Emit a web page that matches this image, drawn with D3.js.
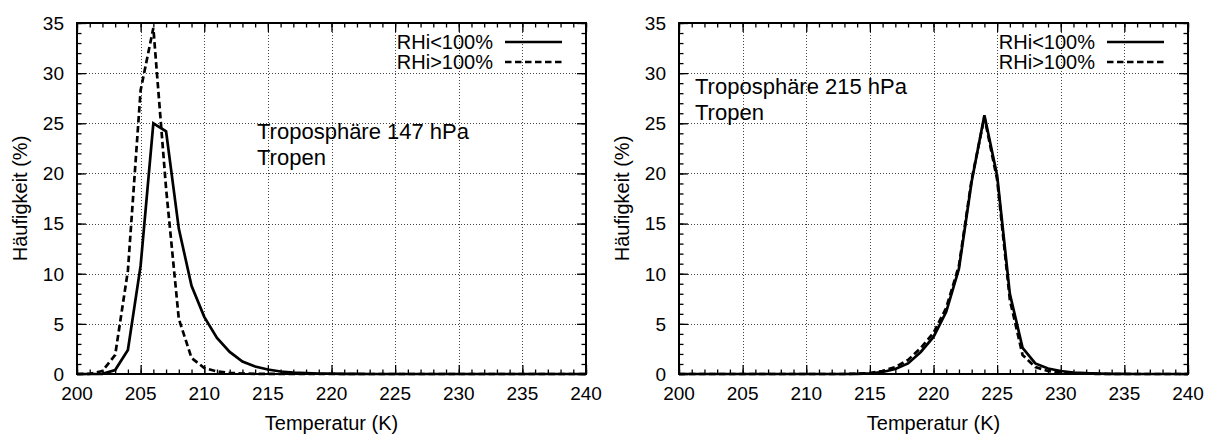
<!DOCTYPE html>
<html>
<head>
<meta charset="utf-8">
<script src="https://cdn.jsdelivr.net/npm/d3@7"></script>
<style>
  html, body { margin: 0; padding: 0; background: #fff; }
  svg { display: block; font-family: "Liberation Sans", Arial, Helvetica, sans-serif; }
</style>
</head>
<body>
<svg id="chart" width="1206" height="435"></svg>
<script>
// Temperature bins (K)
const temps = [200,201,202,203,204,205,206,207,208,209,210,211,212,213,214,215,216,217,218,219,220,
               221,222,223,224,225,226,227,228,229,230,231,232,233,234,235,236,237,238,239,240];

// 147 hPa, frequency (%) per bin
const low147  = [0,0,0.02,0.4,2.4,10.8,25.0,24.2,14.5,8.8,5.7,3.6,2.2,1.25,0.75,0.45,0.25,0.15,0.09,0.05,0.03,
                 0.02,0.01,0,0,0,0,0,0,0,0,0,0,0,0,0,0,0,0,0,0];
const high147 = [0,0.02,0.3,1.9,10.3,28.3,34.5,18.5,5.5,1.6,0.6,0.25,0.1,0.05,0.02,0.01,0,0,0,0,0,
                 0,0,0,0,0,0,0,0,0,0,0,0,0,0,0,0,0,0,0,0];

// 215 hPa, frequency (%) per bin
const low215  = [0,0,0,0,0,0,0,0,0,0,0,0,0,0,0.02,0.06,0.2,0.5,1.05,2.2,3.7,
                 6.2,10.5,19.2,25.8,19.8,8.0,2.6,1.05,0.55,0.3,0.15,0.08,0.04,0.02,0.01,0,0,0,0,0];
const high215 = [0,0,0,0,0,0,0,0,0,0,0,0,0,0,0.03,0.1,0.3,0.7,1.4,2.6,4.1,
                 6.6,10.8,19.4,25.6,19.4,7.4,1.9,0.7,0.3,0.15,0.07,0.03,0.01,0,0,0,0,0,0,0];

const xTicks = [200,205,210,215,220,225,230,235,240];
const yTicks = [0,5,10,15,20,25,30,35];
const seriesNames = ["RHi<100%", "RHi>100%"];
const panelTitles = [["Troposphäre 147 hPa", "Tropen"], ["Troposphäre 215 hPa", "Tropen"]];

const svg = d3.select("#chart");

const panels = [
  { left: 77,  series: [low147, high147], title: panelTitles[0], tx: 257, ty: 139 },
  { left: 679, series: [low215, high215], title: panelTitles[1], tx: 695, ty: 94 }
];
const plotTop = 23, plotW = 509, plotH = 351;
const dashes = [null, "6.5,3.5"];

panels.forEach(p => {
  const g = svg.append("g");
  const x = d3.scaleLinear().domain([200, 240]).range([p.left, p.left + plotW]);
  const y = d3.scaleLinear().domain([0, 35]).range([plotTop + plotH, plotTop]);
  const right = p.left + plotW, bottom = plotTop + plotH;

  // dotted grid at major ticks
  const grid = g.append("g").attr("stroke", "#444").attr("stroke-width", 1)
    .attr("stroke-dasharray", "1,2").attr("shape-rendering", "crispEdges");
  xTicks.slice(1, -1).forEach(t => {
    grid.append("line").attr("x1", Math.round(x(t)) + 0.5).attr("x2", Math.round(x(t)) + 0.5)
      .attr("y1", plotTop).attr("y2", bottom);
  });
  yTicks.slice(1, -1).forEach(t => {
    grid.append("line").attr("y1", Math.round(y(t)) + 0.5).attr("y2", Math.round(y(t)) + 0.5)
      .attr("x1", p.left).attr("x2", right);
  });

  // curves
  const line = d3.line().x((d, i) => x(temps[i])).y(d => y(d));
  p.series.forEach((s, k) => {
    g.append("path").datum(s).attr("d", line)
      .attr("fill", "none").attr("stroke", "#000").attr("stroke-width", 2.7)
      .attr("stroke-linejoin", "miter")
      .attr("stroke-dasharray", dashes[k]);
  });

  // axes: ticks drawn inward on all four sides
  const minorX = x.ticks(40), minorY = y.ticks(35);
  const minor = a => a.tickSizeInner(-4.5).tickSizeOuter(0).tickFormat("");
  const major = a => a.tickValues(null).tickSizeInner(-9).tickSizeOuter(0).tickFormat("");
  g.append("g").attr("transform", `translate(0,${bottom})`).call(minor(d3.axisBottom(x).tickValues(minorX)));
  g.append("g").attr("transform", `translate(0,${plotTop})`).call(minor(d3.axisTop(x).tickValues(minorX)));
  g.append("g").attr("transform", `translate(${p.left},0)`).call(minor(d3.axisLeft(y).tickValues(minorY)));
  g.append("g").attr("transform", `translate(${right},0)`).call(minor(d3.axisRight(y).tickValues(minorY)));
  g.append("g").attr("transform", `translate(0,${bottom})`).call(major(d3.axisBottom(x)).tickValues(xTicks));
  g.append("g").attr("transform", `translate(0,${plotTop})`).call(major(d3.axisTop(x)).tickValues(xTicks));
  g.append("g").attr("transform", `translate(${p.left},0)`).call(major(d3.axisLeft(y)).tickValues(yTicks));
  g.append("g").attr("transform", `translate(${right},0)`).call(major(d3.axisRight(y)).tickValues(yTicks));
  g.selectAll(".domain").remove();
  g.selectAll(".tick line").attr("stroke", "#000").attr("stroke-width", 1.3);

  // frame
  g.append("rect").attr("x", p.left).attr("y", plotTop).attr("width", plotW).attr("height", plotH)
    .attr("fill", "none").attr("stroke", "#000").attr("stroke-width", 2);

  // tick labels
  g.append("g").selectAll("text").data(xTicks).join("text")
    .attr("x", d => x(d)).attr("y", 400).attr("text-anchor", "middle")
    .attr("font-size", 19).text(d => d);
  g.append("g").selectAll("text").data(yTicks).join("text")
    .attr("x", p.left - 13).attr("y", d => y(d)).attr("dy", "0.36em").attr("text-anchor", "end")
    .attr("font-size", 19).text(d => d);

  // axis titles
  g.append("text").attr("x", p.left + plotW / 2).attr("y", 430).attr("text-anchor", "middle")
    .attr("font-size", 20).text("Temperatur (K)");
  g.append("text").attr("transform", `translate(${p.left - 50},${plotTop + plotH / 2}) rotate(-90)`)
    .attr("text-anchor", "middle").attr("font-size", 20).text("Häufigkeit (%)");

  // legend
  seriesNames.forEach((name, k) => {
    const ly = 42 + k * 20;
    g.append("text").attr("x", right - 93).attr("y", ly).attr("dy", "0.36em")
      .attr("text-anchor", "end").attr("font-size", 20).text(name);
    g.append("line").attr("x1", right - 81).attr("x2", right - 24).attr("y1", ly).attr("y2", ly)
      .attr("stroke", "#000").attr("stroke-width", 2.7).attr("stroke-dasharray", dashes[k]);
  });

  // panel annotation
  p.title.forEach((t, k) => {
    g.append("text").attr("x", p.tx).attr("y", p.ty + k * 26).attr("font-size", 22).text(t);
  });
});
</script>
</body>
</html>
